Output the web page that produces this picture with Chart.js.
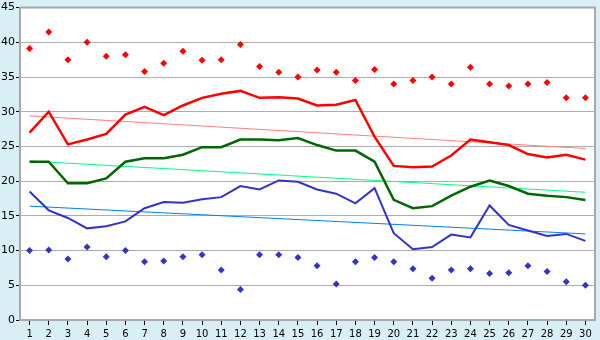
<!DOCTYPE html>
<html>
<head>
<meta charset="utf-8">
<script src="https://cdn.jsdelivr.net/npm/chart.js@4"></script>
<style>
  html, body { margin: 0; padding: 0; background: #d9eff6; }
  canvas { display: block; }
</style>
</head>
<body>
<canvas id="chart" width="600" height="340"></canvas>
<script>
// days of the month
const days = ['1','2','3','4','5','6','7','8','9','10','11','12','13','14','15',
              '16','17','18','19','20','21','22','23','24','25','26','27','28','29','30'];

// daily maximum (red diamonds)
const maxPoints = [39.1, 41.5, 37.5, 40.0, 38.0, 38.2, 35.8, 37.0, 38.7, 37.4,
                   37.5, 39.7, 36.5, 35.7, 35.0, 36.0, 35.7, 34.5, 36.1, 34.0,
                   34.5, 35.0, 34.0, 36.4, 34.0, 33.7, 34.0, 34.2, 32.0, 32.0];

// red line
const highAvg = [27.0, 30.0, 25.3, 26.0, 26.8, 29.6, 30.7, 29.5, 30.9, 32.0,
                 32.6, 33.0, 32.0, 32.1, 31.9, 30.9, 31.0, 31.7, 26.4, 22.2,
                 22.0, 22.1, 23.7, 26.0, 25.6, 25.2, 23.9, 23.4, 23.8, 23.1];

// green line
const meanAvg = [22.8, 22.8, 19.7, 19.7, 20.4, 22.8, 23.3, 23.3, 23.8, 24.9,
                 24.9, 26.0, 26.0, 25.9, 26.2, 25.2, 24.4, 24.4, 22.8, 17.3,
                 16.1, 16.4, 17.9, 19.2, 20.1, 19.3, 18.2, 17.9, 17.7, 17.3];

// blue line
const lowAvg = [18.5, 15.8, 14.7, 13.2, 13.5, 14.2, 16.1, 17.0, 16.9, 17.4,
                17.7, 19.3, 18.8, 20.1, 19.9, 18.8, 18.2, 16.8, 19.0, 12.5,
                10.2, 10.5, 12.3, 11.9, 16.5, 13.7, 12.9, 12.1, 12.4, 11.4];

// daily minimum (blue diamonds)
const minPoints = [10.0, 10.1, 8.8, 10.5, 9.1, 10.0, 8.4, 8.5, 9.1, 9.4,
                   7.2, 4.4, 9.4, 9.4, 9.0, 7.8, 5.2, 8.4, 9.0, 8.4,
                   7.4, 6.0, 7.2, 7.4, 6.7, 6.8, 7.8, 7.0, 5.5, 5.0];

// trend lines, value at day 1 and day 30
const highTrend = [29.4, 24.7];
const meanTrend = [22.9, 18.4];
const lowTrend = [16.4, 12.4];

const yTicks = [0, 5, 10, 15, 20, 25, 30, 35, 40, 45];

function trend(ends) {
    return [{ x: days[0], y: ends[0] }, { x: days[days.length - 1], y: ends[1] }];
}

// white plot area with a gray frame
const plotFrame = {
    id: 'plotFrame',
    beforeDraw(chart) {
        const a = chart.chartArea, c = chart.ctx;
        c.save();
        c.fillStyle = '#ffffff';
        c.fillRect(a.left, a.top, a.right - a.left, a.bottom - a.top);
        c.restore();
    },
    afterDatasetsDraw(chart) {
        const a = chart.chartArea, c = chart.ctx;
        c.save();
        c.strokeStyle = '#a8a8a8';
        c.lineWidth = 2;
        c.beginPath();
        c.moveTo(a.left, a.top);
        c.lineTo(a.right, a.top);
        c.lineTo(a.right, a.bottom);
        c.stroke();
        c.restore();
    }
};

const lineOpts = { pointRadius: 0, tension: 0, fill: false };
const dotOpts = { showLine: false, pointStyle: 'rectRot', pointRadius: 3.5, pointBorderWidth: 0 };

new Chart(document.getElementById('chart'), {
    type: 'line',
    data: {
        labels: days,
        datasets: [
            { ...lineOpts, data: trend(highTrend), borderColor: '#ff8080', borderWidth: 1, order: 5 },
            { ...lineOpts, data: trend(meanTrend), borderColor: '#00ff80', borderWidth: 1, order: 5 },
            { ...lineOpts, data: trend(lowTrend), borderColor: '#0080ff', borderWidth: 1, order: 5 },
            { ...lineOpts, data: highAvg, borderColor: '#ff0000', borderWidth: 2.5, order: 2 },
            { ...lineOpts, data: meanAvg, borderColor: '#006600', borderWidth: 2.5, order: 2 },
            { ...lineOpts, data: lowAvg, borderColor: '#3333cc', borderWidth: 2, order: 2 },
            { ...dotOpts, data: maxPoints, backgroundColor: '#ff0000', borderColor: '#ff0000', order: 1 },
            { ...dotOpts, data: minPoints, backgroundColor: '#3333cc', borderColor: '#3333cc', order: 1 }
        ]
    },
    options: {
        responsive: false,
        animation: false,
        devicePixelRatio: 1,
        layout: { padding: { top: 5, right: 5, left: 0, bottom: 0 } },
        plugins: { legend: { display: false }, tooltip: { enabled: false } },
        scales: {
            x: {
                offset: true,
                grid: { offset: false, drawOnChartArea: false, drawTicks: true, tickLength: 5, tickColor: '#000000' },
                border: { color: '#a8a8a8', width: 2 },
                ticks: { color: '#000000', padding: 3, maxRotation: 0, autoSkip: false,
                         font: { family: 'DejaVu Sans', size: 10 } },
                afterFit(scale) { scale.height = 20; }
            },
            y: {
                min: 0,
                max: 45,
                afterBuildTicks(scale) { scale.ticks = yTicks.map(v => ({ value: v })); },
                grid: { color: '#acacac', tickLength: 4, tickColor: '#000000' },
                border: { color: '#a8a8a8', width: 2 },
                ticks: { color: '#000000', padding: 1, font: { family: 'DejaVu Sans', size: 11 } },
                afterFit(scale) { scale.width = 20; }
            }
        }
    },
    plugins: [plotFrame]
});
</script>
</body>
</html>
